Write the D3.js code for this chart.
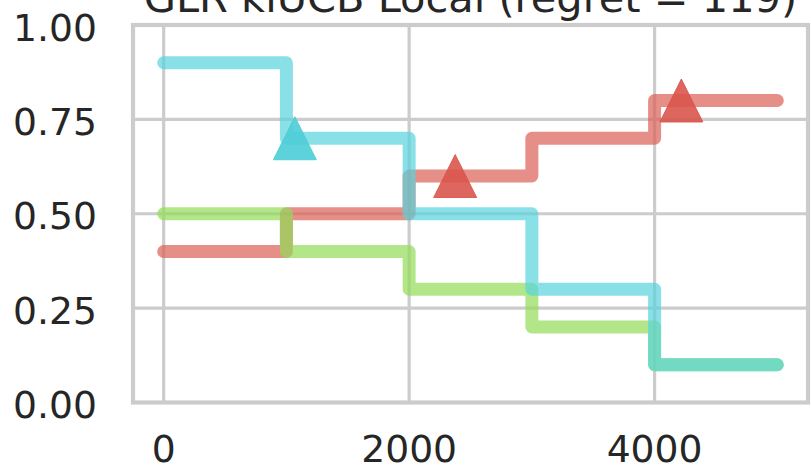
<!DOCTYPE html>
<html>
<head>
<meta charset="utf-8">
<script src="https://cdn.jsdelivr.net/npm/d3@7"></script>
<style>
  html, body { margin: 0; padding: 0; background: #fff; }
  svg { display: block; }
  text { font-family: "DejaVu Sans", sans-serif; fill: #262626; }
</style>
</head>
<body>
<svg id="chart" width="811" height="469"></svg>
<script>
// ---- data ----
const title = "GLR klUCB Local (regret ";
const titleMath = "= 119";
const breakpoints = [0, 1000, 2000, 3000, 4000, 5000];
const seriesNames = ["arm0", "arm1", "arm2"];
const seriesColors = ["#db5f57", "#91db57", "#57d3db"];
// piecewise-constant means on each segment [breakpoints[i], breakpoints[i+1])
const meansArm0 = [0.4, 0.5, 0.6, 0.7, 0.8];
const meansArm1 = [0.5, 0.4, 0.3, 0.2, 0.1];
const meansArm2 = [0.9, 0.7, 0.5, 0.3, 0.1];
// detected change points (time, arm index, value)
const detectTimes = [1069, 2375, 4218];
const detectArms = [2, 0, 0];
const detectValues = [0.70, 0.60, 0.80];
const xTicks = [0, 2000, 4000];
const yTicks = [0.00, 0.25, 0.50, 0.75, 1.00];

// ---- layout ----
const svg = d3.select("#chart");
const L = 133, R = 808, T = 25, B = 402.5;
const x = d3.scaleLinear().domain([-250, 5250]).range([L, R]);
const y = d3.scaleLinear().domain([0, 1]).range([B, T]);

// grid
const g = svg.append("g");
g.selectAll("line.vx").data(xTicks).enter().append("line")
  .attr("x1", d => x(d)).attr("x2", d => x(d)).attr("y1", T).attr("y2", B)
  .attr("stroke", "#cccccc").attr("stroke-width", 3.2);
g.selectAll("line.hy").data(yTicks).enter().append("line")
  .attr("y1", d => y(d)).attr("y2", d => y(d)).attr("x1", L).attr("x2", R)
  .attr("stroke", "#cccccc").attr("stroke-width", 3.2);

// series (step lines)
const allMeans = [meansArm0, meansArm1, meansArm2];
const line = d3.line().x(d => x(d[0])).y(d => y(d[1])).curve(d3.curveStepAfter);
allMeans.forEach((means, k) => {
  const pts = breakpoints.map((t, i) => [t, means[Math.min(i, means.length - 1)]]);
  svg.append("path").datum(pts)
    .attr("d", line)
    .attr("fill", "none")
    .attr("stroke", seriesColors[k])
    .attr("stroke-width", 13)
    .attr("stroke-opacity", 0.7)
    .attr("stroke-linecap", "round")
    .attr("stroke-linejoin", "round");
});

// detection markers (triangles)
const triFill = ["#d9554d", "#91db57", "#4ccdd6"];
detectTimes.forEach((t, i) => {
  const cx = x(t), cy = y(detectValues[i]);
  const w = 43, h = 43;
  svg.append("path")
    .attr("d", `M${cx},${cy - h / 2} L${cx + w / 2},${cy + h / 2} L${cx - w / 2},${cy + h / 2} Z`)
    .attr("fill", triFill[detectArms[i]])
    .attr("fill-opacity", 0.9)
    .attr("stroke", triFill[detectArms[i]])
    .attr("stroke-opacity", 0.9)
    .attr("stroke-width", 1);
});

// frame
svg.append("rect")
  .attr("x", L).attr("y", T).attr("width", R - L).attr("height", B - T)
  .attr("fill", "none").attr("stroke", "#cccccc").attr("stroke-width", 4.2);

// axes labels
const fs = 37.7;
svg.selectAll("text.yt").data(yTicks).enter().append("text")
  .attr("x", 97).attr("y", d => y(d) + 15.5)
  .attr("text-anchor", "end").attr("font-size", fs)
  .text(d => d.toFixed(2));
svg.selectAll("text.xt").data(xTicks).enter().append("text")
  .attr("x", d => x(d)).attr("y", 462)
  .attr("text-anchor", "middle").attr("font-size", fs)
  .text(d => d3.format("d")(d));

// title
const tt = svg.append("text")
  .attr("x", (L + R) / 2).attr("y", 12)
  .attr("text-anchor", "middle").attr("font-size", 41.5);
tt.append("tspan").text(title);
tt.append("tspan").text(titleMath);
tt.append("tspan").text(")");
</script>
</body>
</html>
